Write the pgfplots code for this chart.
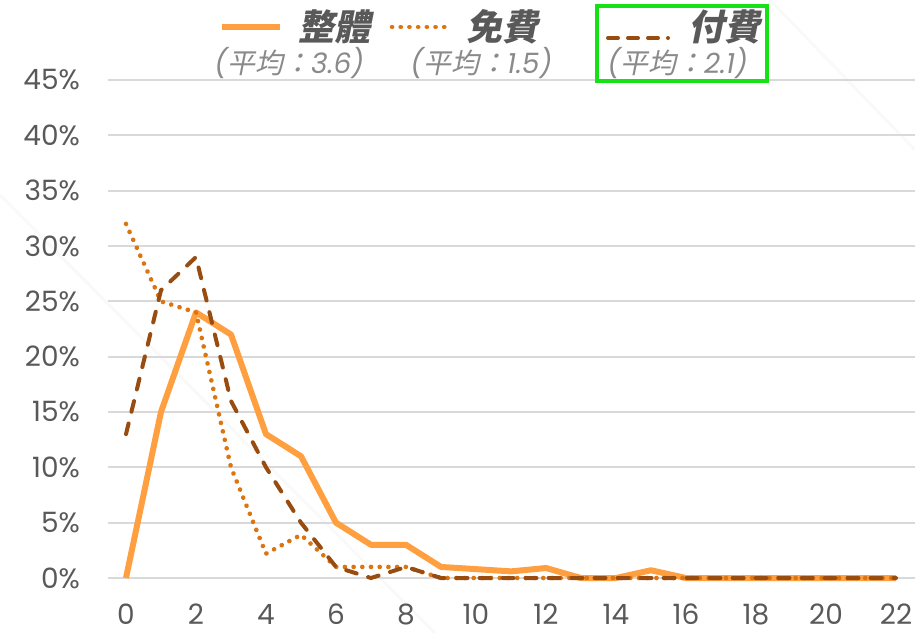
\documentclass[border=0pt]{standalone}
\usepackage{fontspec}
\setmainfont{Poppins}
\newfontfamily\cjk{Noto Sans CJK TC}[FakeSlant=0.2]
\usepackage{pgfplots}
\pgfplotsset{compat=1.18}
\definecolor{cAll}{HTML}{FF9F40}
\definecolor{cFree}{HTML}{DC7410}
\definecolor{cPaid}{HTML}{984C10}
\definecolor{txt}{HTML}{595959}
\definecolor{txtlight}{HTML}{8A8A8A}
\definecolor{gridc}{HTML}{D9D9D9}
\definecolor{boxg}{HTML}{16E016}
\pgfplotstableread{
x all free paid
0 0 32 13
1 15 25 26
2 24 24 29
3 22 10 16
4 13 2.2 10
5 11 3.9 5
6 5 1 1
7 3 1 0
8 3 1 1
9 1 0 0
10 0.8 0 0
11 0.6 0 0
12 0.9 0 0
13 0 0 0
14 0 0 0
15 0.7 0 0
16 0 0 0
17 0 0 0
18 0 0 0
19 0 0 0
20 0 0 0
21 0 0 0
22 0 0 0
}\datatable
\tikzset{dotsty/.style={cFree, line width=2.3pt, line cap=round, dash pattern=on 0.05pt off 4.3pt}}
\begin{document}
\begin{tikzpicture}[x=1pt,y=1pt]
\useasboundingbox (-54,-27.5) rectangle (403.5,289);
\draw[color=gray!5, line width=1.5pt] (-54,191.5) -- (163.5,-27.5);
\draw[color=gray!5, line width=1.5pt] (331,289) -- (403.5,214);
\begin{axis}[
  at={(0,0)}, anchor=south west,
  scale only axis, width=403.5pt, height=249pt,
  xmin=-0.514, xmax=22.543, ymin=0, ymax=45,
  clip=false,
  axis line style={draw=none},
  tick style={draw=none},
  ymajorgrids, grid style={line width=1pt, color=gridc},
  xtick={0,2,...,22}, ytick={0,5,...,45},
  /pgf/number format/assume math mode=true,
  yticklabel={\pgfmathprintnumber{\tick}\%},
  ticklabel style={font=\fontsize{14}{16}\selectfont, text=txt},
  yticklabel style={xshift=-10.5pt},
  xticklabel style={yshift=-9.5pt},
]
\addplot[cAll, line width=3pt, line join=round] table[x=x,y=all]{\datatable};
\addplot[dotsty] table[x=x,y=free]{\datatable};
\addplot[cPaid, line width=2pt, line cap=round, dash pattern=on 5.5pt off 6pt] table[x=x,y=paid]{\datatable};
\end{axis}
% legend
\draw[cAll, line width=3pt] (57,275.5) -- (86,275.5);
\node[anchor=west, inner sep=0, text=txt] at (95,275.5) {\fontsize{18}{20}\selectfont\cjk\bfseries 整體};
\node[anchor=west, inner sep=0, text=txtlight] at (53,257.5) {\fontsize{14}{16}\selectfont\itshape ({\cjk 平均：}3.6)};
\draw[dotsty] (142,275.5) -- (172,275.5);
\node[anchor=west, inner sep=0, text=txt] at (179,275.5) {\fontsize{18}{20}\selectfont\cjk\bfseries 免費};
\node[anchor=west, inner sep=0, text=txtlight] at (151,257.5) {\fontsize{14}{16}\selectfont\itshape ({\cjk 平均：}1.5)};
\draw[cPaid, line width=2pt, line cap=round, dash pattern=on 5pt off 5pt] (250,270) -- (280,270);
\node[anchor=west, inner sep=0, text=txt] at (290,275.5) {\fontsize{18}{20}\selectfont\cjk\bfseries 付費};
\node[anchor=west, inner sep=0, text=txtlight] at (249.5,257.5) {\fontsize{14}{16}\selectfont\itshape ({\cjk 平均：}2.1)};
\draw[boxg, line width=2pt] (244.5,248.5) rectangle (329.5,286);
\end{tikzpicture}
\end{document}
